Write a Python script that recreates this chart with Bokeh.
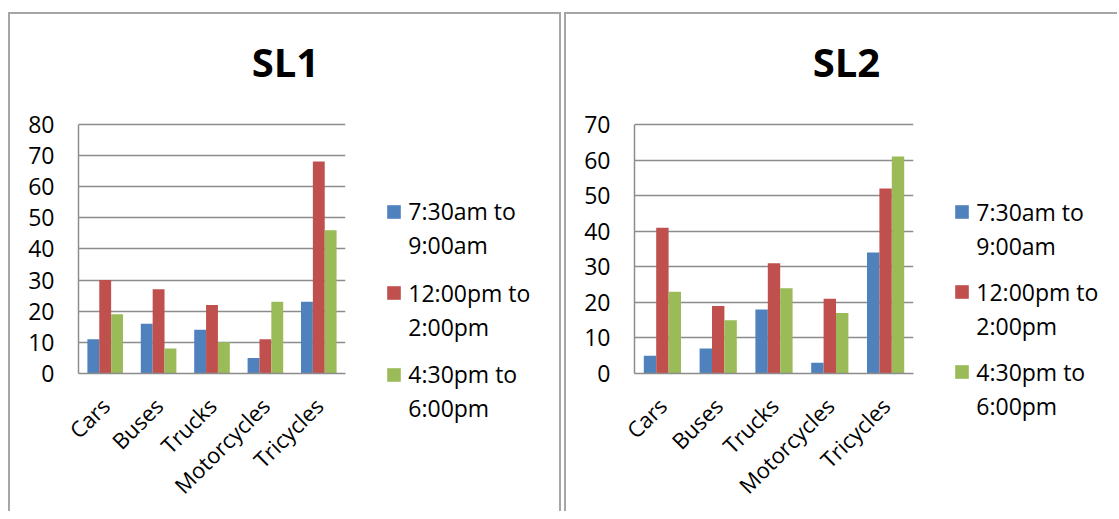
from bokeh.plotting import figure
from bokeh.layouts import row
from bokeh.models import (FactorRange, Range1d, FixedTicker, Legend, LegendItem, Label)
from bokeh.transform import dodge
from bokeh.embed import file_html
from bokeh.resources import INLINE

categories = ["Cars", "Buses", "Trucks", "Motorcycles", "Tricycles"]
series_line1 = ["7:30am to", "12:00pm to", "4:30pm to"]
series_line2 = ["9:00am", "2:00pm", "6:00pm"]

sl1_morning = [11, 16, 14, 5, 23]
sl1_noon = [30, 27, 22, 11, 68]
sl1_evening = [19, 8, 10, 23, 46]

sl2_morning = [5, 7, 18, 3, 34]
sl2_noon = [41, 19, 31, 21, 52]
sl2_evening = [23, 15, 24, 17, 61]

sl1_ticks = [0, 10, 20, 30, 40, 50, 60, 70, 80]
sl2_ticks = [0, 10, 20, 30, 40, 50, 60, 70]

COLORS = ["#4F81BD", "#C0504D", "#9BBB59"]
FONT = "Open Sans"
FS = "23px"
FS_X = "22px"
GRID = "#8c8c8c"
BORDER = "2px solid #a6a6a6"
H = 499


def make_chart(title, series, ticks, width, mb, plot_px, title_pos, borders):
    ymax = ticks[-1]
    frame_px = H - mb[3]
    y_end = ymax * frame_px / plot_px      # extra room above the plot area for the title
    p = figure(x_range=FactorRange(*categories, range_padding=0),
               y_range=Range1d(0, y_end),
               width=width, height=H,
               min_border_left=mb[0], min_border_right=mb[1],
               min_border_top=0, min_border_bottom=mb[3],
               output_backend="svg", toolbar_location=None,
               outline_line_color=None, frame_align=False)
    p.styles = borders

    bw = 1 / 4.5
    offsets = [-bw, 0, bw]
    data = {"cat": categories}
    for i, s in enumerate(series):
        data[f"s{i}"] = s
    for i in range(3):
        p.vbar(x=dodge("cat", offsets[i], range=p.x_range), top=f"s{i}",
               width=bw, source=data, fill_color=COLORS[i], line_color=None)

    p.add_layout(Label(x=title_pos[0], y=title_pos[1] * ymax, text=title,
                       text_align="center", text_baseline="alphabetic",
                       text_font=FONT, text_font_style="bold",
                       text_font_size="40px", text_color="black"))

    p.yaxis.ticker = FixedTicker(ticks=ticks)
    p.yaxis.bounds = (0, ymax)
    p.yaxis.major_tick_line_color = None
    p.yaxis.minor_tick_line_color = None
    p.yaxis.major_tick_out = 0
    p.yaxis.major_label_standoff = 24
    p.xaxis.major_tick_line_color = None
    p.xaxis.major_tick_out = 0
    p.xaxis.major_label_orientation = 0.785398
    p.xaxis.major_label_standoff = 28
    for ax in (p.xaxis, p.yaxis):
        ax.axis_line_color = GRID
        ax.axis_line_width = 1.5
        ax.major_label_text_font = FONT
        ax.major_label_text_color = "black"
    p.yaxis.major_label_text_font_size = FS
    p.xaxis.major_label_text_font_size = FS_X
    p.xgrid.grid_line_color = None
    p.ygrid.grid_line_color = GRID
    p.ygrid.grid_line_width = 1.5
    return p


def make_legend(width, leg_x, leg_ys, borders):
    p = figure(x_range=Range1d(0, 1), y_range=Range1d(0, 1),
               width=width, height=H, min_border=0,
               x_axis_location=None, y_axis_location=None,
               output_backend="svg", toolbar_location=None,
               outline_line_color=None, frame_align=False)
    p.styles = borders
    p.xgrid.visible = False
    p.ygrid.visible = False
    # key swatches only: these renderers sit outside the visible ranges
    blank = p.vbar(x=[-1], top=[-1], width=0.1, fill_alpha=0, line_alpha=0)
    for i in range(3):
        r = p.vbar(x=[-1], top=[-1], width=0.1, fill_color=COLORS[i], line_color=None)
        leg = Legend(items=[LegendItem(label=series_line1[i], renderers=[r]),
                            LegendItem(label=series_line2[i], renderers=[blank])],
                     location=(leg_x, leg_ys[i]),
                     border_line_color=None, background_fill_alpha=0,
                     padding=0, margin=0, spacing=2,
                     label_height=31, glyph_height=17, glyph_width=17,
                     label_standoff=6,
                     label_text_font=FONT, label_text_font_size=FS,
                     label_text_color="black")
        p.add_layout(leg)
    return p


c1 = make_chart("SL1", [sl1_morning, sl1_noon, sl1_evening], sl1_ticks,
                340, (68, 5, 0, 139), 250, (3.876, 1.252),
                {"border-top": BORDER, "border-left": BORDER})
l1 = make_legend(213, 37.3, [252, 170.5, 89],
                 {"border-top": BORDER, "border-right": BORDER})
c2 = make_chart("SL2", [sl2_morning, sl2_noon, sl2_evening], sl2_ticks,
                352, (68, 5, 0, 140), 249, (3.799, 1.253),
                {"border-top": BORDER, "border-left": BORDER})
c2.margin = (0, 0, 0, 3)
l2 = make_legend(201, 37.3, [251.5, 171.5, 91.5],
                 {"border-top": BORDER})

layout = row(c1, l1, c2, l2, spacing=0)
layout.margin = (12, 0, 0, 8)

open("out.html", "w").write(file_html(layout, INLINE))
